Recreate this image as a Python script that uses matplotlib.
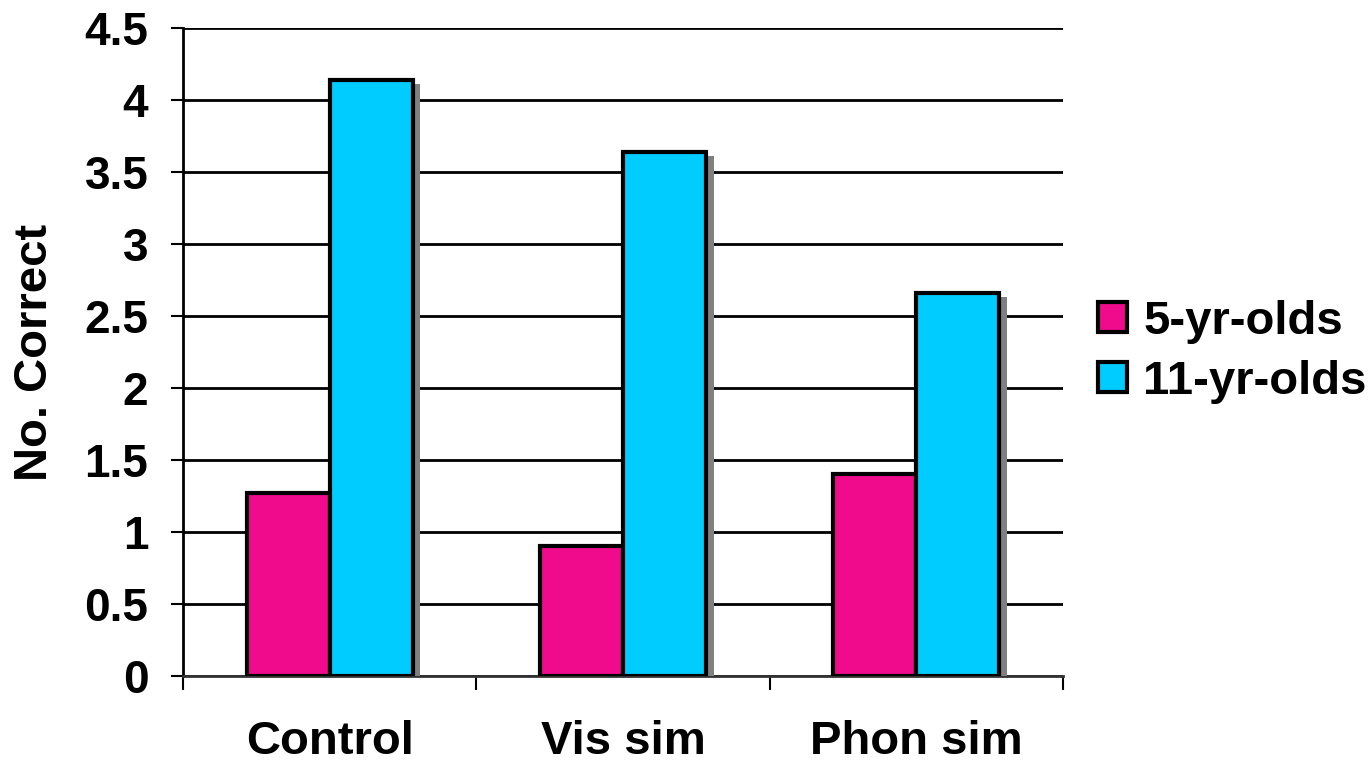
import numpy as np
import matplotlib.pyplot as plt
import matplotlib.patheffects as pe

conditions = ["Control", "Vis sim", "Phon sim"]
five_yr = [1.27, 0.90, 1.40]
eleven_yr = [4.14, 3.64, 2.66]
series_names = ["5-yr-olds", "11-yr-olds"]

plt.rcParams["font.family"] = ["Liberation Sans", "DejaVu Sans"]
plt.rcParams["font.weight"] = "bold"

fig = plt.figure(figsize=(13.71, 7.62), dpi=100)
ax = fig.add_axes([0.1335, 0.1129, 0.6419, 0.8504])

x = np.arange(len(conditions))
w = 0.283
shadow = [pe.SimplePatchShadow(offset=(5.5, -3), shadow_rgbFace="#808080", alpha=1.0), pe.Normal()]

ax.bar(x - w / 2, five_yr, w, color="#F00A8C", edgecolor="black", linewidth=3,
       label=series_names[0], path_effects=shadow, zorder=3)
ax.bar(x + w / 2, eleven_yr, w, color="#00CCFF", edgecolor="black", linewidth=3,
       label=series_names[1], path_effects=shadow, zorder=3)

ax.set_xlim(-0.5, len(conditions) - 0.5)
ax.set_ylim(0, 4.5)
ax.set_yticks(np.arange(0, 4.51, 0.5))
ax.set_yticklabels(["0", "0.5", "1", "1.5", "2", "2.5", "3", "3.5", "4", "4.5"])
ax.yaxis.grid(True, color="black", linewidth=2)
ax.set_axisbelow(True)

# category boundaries get the tick marks, centres get the labels
ax.set_xticks(np.arange(-0.5, len(conditions), 1.0))
ax.set_xticklabels([])
ax.set_xticks(x, minor=True)
ax.set_xticklabels(conditions, minor=True)
ax.tick_params(axis="x", which="minor", length=0, pad=32, labelsize=34)
ax.tick_params(axis="x", which="major", length=10, width=1.5, direction="out")
ax.tick_params(axis="y", length=9, width=1.5, labelsize=33, pad=16)

for s in ["top", "right"]:
    ax.spines[s].set_visible(False)
ax.spines["left"].set_linewidth(2)
ax.spines["bottom"].set_linewidth(2)
ax.spines["bottom"].set_color("#333333")

ax.set_ylabel("No. Correct", fontsize=34, fontweight="bold", labelpad=20)

leg = ax.legend(loc="center left", bbox_to_anchor=(1.04, 0.5), frameon=False,
                fontsize=34, handlelength=0.6, handleheight=0.6, handletextpad=0.35,
                labelspacing=0.34, borderpad=0, borderaxespad=0)
for h in leg.legend_handles:
    h.set_path_effects([])
    h.set_linewidth(3)

fig.savefig("out.png", dpi=100)
